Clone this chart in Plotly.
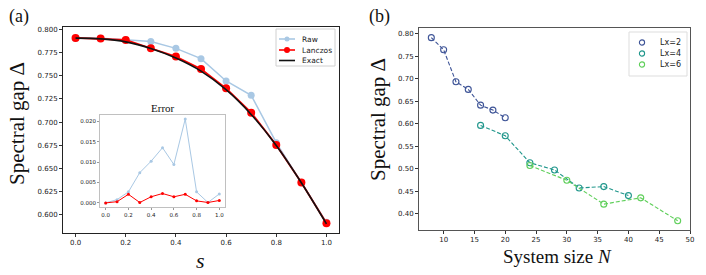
import plotly.graph_objects as go

W, H = 706, 275

# ---------- data ----------
s_vals = [0.0, 0.1, 0.2, 0.3, 0.4, 0.5, 0.6, 0.7, 0.8, 0.9, 1.0]
gap_raw = [0.7905, 0.7905, 0.7888, 0.7868, 0.7795, 0.7684, 0.7443, 0.7289, 0.6778, 0.6348, 0.5920]
gap_lanczos = [0.7907, 0.7900, 0.7885, 0.7796, 0.7706, 0.7573, 0.7364, 0.7102, 0.6754, 0.6348, 0.5910]
gap_exact = [0.7905, 0.7897, 0.7865, 0.7794, 0.7691, 0.7550, 0.7349, 0.7082, 0.6749, 0.6347, 0.5904]
err_raw = [0.0000, 0.0008, 0.0027, 0.0074, 0.0102, 0.0135, 0.0094, 0.0205, 0.0027, 0.0001, 0.0022]
err_lanczos = [0.0000, 0.0003, 0.0021, 0.0001, 0.0015, 0.0023, 0.0015, 0.0021, 0.0005, 0.0001, 0.0006]

N_lx2 = [8, 10, 12, 14, 16, 18, 20]
gap_lx2 = [0.791, 0.764, 0.693, 0.676, 0.641, 0.630, 0.613]
N_lx4 = [16, 20, 24, 28, 32, 36, 40]
gap_lx4 = [0.596, 0.573, 0.513, 0.497, 0.457, 0.460, 0.440]
N_lx6 = [24, 30, 36, 42, 48]
gap_lx6 = [0.507, 0.474, 0.421, 0.435, 0.384]

legend_a_labels = ["Raw", "Lanczos", "Exact"]
legend_b_labels = ["Lx=2", "Lx=4", "Lx=6"]

c_raw = "#a9c8e4"
c_lan = "#ff0000"
c_exact = "#111111"
c_lx2 = "#3e5497"
c_lx4 = "#1f968b"
c_lx6 = "#5fcf5a"


def px(x):
    return x / W


def py(y):
    return 1 - y / H


fig = go.Figure()

# panel (a)
fig.add_trace(go.Scatter(x=s_vals, y=gap_raw, mode="lines+markers", name="Raw", showlegend=False,
                         line=dict(color=c_raw, width=1.5), marker=dict(color=c_raw, size=7),
                         xaxis="x", yaxis="y"))
fig.add_trace(go.Scatter(x=s_vals, y=gap_lanczos, mode="lines+markers", name="Lanczos", showlegend=False,
                         line=dict(color=c_lan, width=1.8), marker=dict(color=c_lan, size=8),
                         xaxis="x", yaxis="y"))
fig.add_trace(go.Scatter(x=s_vals, y=gap_exact, mode="lines", name="Exact", showlegend=False,
                         line=dict(color=c_exact, width=1.6, shape="spline"),
                         xaxis="x", yaxis="y"))

# inset
fig.add_trace(go.Scatter(x=s_vals, y=err_raw, mode="lines+markers", showlegend=False,
                         line=dict(color=c_raw, width=1), marker=dict(color=c_raw, size=3),
                         xaxis="x2", yaxis="y2"))
fig.add_trace(go.Scatter(x=s_vals, y=err_lanczos, mode="lines+markers", showlegend=False,
                         line=dict(color=c_lan, width=1), marker=dict(color=c_lan, size=3),
                         xaxis="x2", yaxis="y2"))

# panel (b)
for N, g, c, nm in [(N_lx2, gap_lx2, c_lx2, "Lx=2"), (N_lx4, gap_lx4, c_lx4, "Lx=4"),
                    (N_lx6, gap_lx6, c_lx6, "Lx=6")]:
    fig.add_trace(go.Scatter(x=N, y=g, mode="lines+markers", name=nm, showlegend=False,
                             line=dict(color=c, width=1.1, dash="4px,2px"),
                             marker=dict(symbol="circle-open", color=c, size=6, line=dict(width=1.1)),
                             xaxis="x3", yaxis="y3"))

tickfont = dict(family="DejaVu Sans", size=7, color="#222222")
axcommon = dict(showgrid=False, zeroline=False, showline=True, mirror=True, ticks="outside",
                ticklen=3, tickwidth=0.8, tickcolor="#333", tickfont=tickfont, automargin=False)
insetax = dict(showgrid=False, zeroline=False, showline=True, mirror=True, ticks="outside",
               ticklen=2, tickwidth=0.6, tickcolor="#999", automargin=False,
               linecolor="#c0c0c0", linewidth=1,
               tickfont=dict(family="DejaVu Sans", size=5.5, color="#222"))

fig.update_layout(
    template="none",
    width=W, height=H, margin=dict(l=0, r=0, t=0, b=0, autoexpand=False),
    paper_bgcolor="white", plot_bgcolor="white", showlegend=False,
    xaxis=dict(domain=[px(63), px(339)], range=[-0.05, 1.05], tickvals=[0, 0.2, 0.4, 0.6, 0.8, 1.0],
               tickformat=".1f", anchor="y", linecolor="#222222", linewidth=1, **axcommon),
    yaxis=dict(domain=[py(233), py(27)], range=[0.5805, 0.8025],
               tickvals=[0.6, 0.625, 0.65, 0.675, 0.7, 0.725, 0.75, 0.775, 0.8],
               tickformat=".3f", anchor="x", linecolor="#222222", linewidth=1, **axcommon),
    xaxis2=dict(domain=[px(100), px(225)], range=[-0.05, 1.05], tickvals=[0, 0.2, 0.4, 0.6, 0.8, 1.0],
                tickformat=".1f", anchor="y2", **insetax),
    yaxis2=dict(domain=[py(207), py(115)], range=[-0.001, 0.0215],
                tickvals=[0, 0.005, 0.01, 0.015, 0.02], tickformat=".3f", anchor="x2", **insetax),
    xaxis3=dict(domain=[px(419), px(690)], range=[6, 50], tickvals=[10, 15, 20, 25, 30, 35, 40, 45, 50],
                anchor="y3", linecolor="#555555", linewidth=1, **axcommon),
    yaxis3=dict(domain=[py(230), py(28)], range=[0.3635, 0.8125],
                tickvals=[0.4, 0.45, 0.5, 0.55, 0.6, 0.65, 0.7, 0.75, 0.8], tickformat=".2f",
                anchor="x3", linecolor="#555555", linewidth=1, **axcommon),
)

shapes = []
ann = []
legfont_a = dict(family="DejaVu Sans", size=7.5, color="#222")
legfont_b = dict(family="DejaVu Sans", size=8, color="#222")

# legend (a)
shapes.append(dict(type="rect", x0=px(276), x1=px(335), y0=py(66), y1=py(29),
                   line=dict(color="#d0d0d0", width=1), fillcolor="rgba(255,255,255,0.85)"))
rows_a = [39, 50, 60.5]
for lab, yy, col, msz in zip(legend_a_labels, rows_a, [c_raw, c_lan, c_exact], [5, 6, 0]):
    shapes.append(dict(type="line", x0=px(279), x1=px(295), y0=py(yy), y1=py(yy),
                       line=dict(color=col, width=1.6)))
    if msz:
        r = msz / 2
        shapes.append(dict(type="circle", x0=px(287 - r), x1=px(287 + r), y0=py(yy + r), y1=py(yy - r),
                           line=dict(color=col, width=0), fillcolor=col))
    ann.append(dict(text=lab, x=px(300), y=py(yy), xanchor="left", yanchor="middle", font=legfont_a))

# legend (b)
shapes.append(dict(type="rect", x0=px(629), x1=px(687), y0=py(76), y1=py(32),
                   line=dict(color="#dddddd", width=1), fillcolor="rgba(255,255,255,0.85)"))
rows_b = [42.5, 53.5, 64.5]
for lab, yy, col in zip(legend_b_labels, rows_b, [c_lx2, c_lx4, c_lx6]):
    r = 2.6
    shapes.append(dict(type="circle", x0=px(642 - r), x1=px(642 + r), y0=py(yy + r), y1=py(yy - r),
                       line=dict(color=col, width=1.1)))
    ann.append(dict(text=lab, x=px(658), y=py(yy), xanchor="left", yanchor="middle", font=legfont_b))

serif = "Liberation Serif"
ann += [
    dict(text="(a)", x=px(19), y=py(17), font=dict(family=serif, size=18, color="#111")),
    dict(text="(b)", x=px(380), y=py(17), font=dict(family=serif, size=18, color="#111")),
    dict(text="Spectral gap Δ", x=px(17), y=py(124), textangle=-90, font=dict(family=serif, size=21, color="#111")),
    dict(text="Spectral gap Δ", x=px(378), y=py(120), textangle=-90, font=dict(family=serif, size=21, color="#111")),
    dict(text="<i>s</i>", x=px(201), y=py(260), font=dict(family=serif, size=22, color="#111")),
    dict(text="System size <i>N</i>", x=px(557), y=py(256), font=dict(family=serif, size=19, color="#111")),
    dict(text="Error", x=px(163), y=py(108), font=dict(family=serif, size=11, color="#111")),
]
for a in ann:
    a.setdefault("xanchor", "center")
    a.setdefault("yanchor", "middle")
    a.update(xref="paper", yref="paper", showarrow=False)
for s in shapes:
    s.update(xref="paper", yref="paper", layer="above")
fig.update_layout(annotations=ann, shapes=shapes)

fig.write_html("out.html", config={"displayModeBar": False},
               post_script="document.body.style.margin='0';document.body.style.overflow='hidden';")
